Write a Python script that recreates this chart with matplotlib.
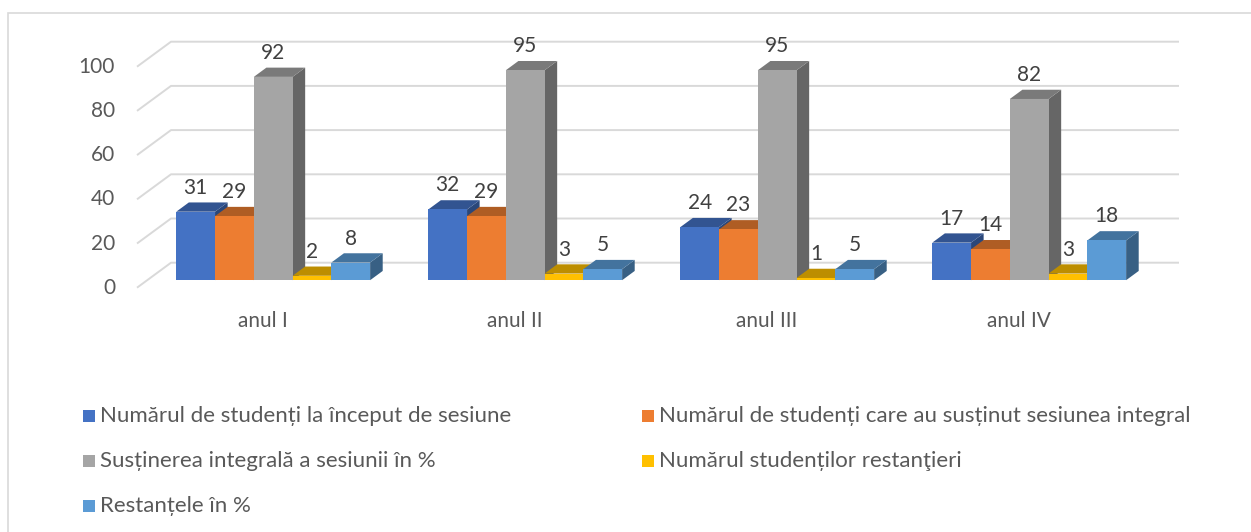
import matplotlib
matplotlib.use("Agg")
import matplotlib.pyplot as plt
from matplotlib.patches import Polygon, Rectangle
from matplotlib.transforms import offset_copy
import matplotlib.colors as mcolors
import numpy as np

# ---- data ----
categories = ["anul I", "anul II", "anul III", "anul IV"]
series_names = [
    "Numărul de studenți la început de sesiune",
    "Numărul de studenți care au susținut sesiunea integral",
    "Susținerea integrală a sesiunii în %",
    "Numărul studenților restanţieri",
    "Restanțele în %",
]
s_inceput = [31, 32, 24, 17]
s_integral = [29, 29, 23, 14]
s_procent = [92, 95, 95, 82]
s_restantieri = [2, 3, 1, 3]
s_restante_pct = [8, 5, 5, 18]
series_values = [s_inceput, s_integral, s_procent, s_restantieri, s_restante_pct]
colors = ["#4472C4", "#ED7D31", "#A5A5A5", "#FFC000", "#5B9BD5"]
yticks = [0, 20, 40, 60, 80, 100]

# ---- layout ----
W, H = 1251, 532
plt.rcParams['font.family'] = ['Lato', 'DejaVu Sans']
fig = plt.figure(figsize=(W / 100, H / 100), dpi=100)
x_left_px, x_right_px = 137, 1145
y0_px, y100_px = 287.7, 66.7
ax = fig.add_axes([x_left_px / W, (H - y0_px) / H,
                   (x_right_px - x_left_px) / W, (y0_px - y100_px) / H])
ax.set_xlim(-0.5, len(categories) - 0.5)
ax.set_ylim(0, 100)
ax.axis("off")

px_per_x = (x_right_px - x_left_px) / len(categories)
px_per_y = (y0_px - y100_px) / 100
DX = 34 / px_per_x       # full depth offset in x data units
DY = 25 / px_per_y       # full depth offset in y data units
grid_col = "#D9D9D9"
text_col = "#595959"

# gridlines: left side wall diagonals + back wall horizontals
x0 = -0.5
x1 = len(categories) - 0.5
for v in yticks:
    ax.plot([x0, x0 + DX, x1 + DX], [v, v + DY, v + DY], color=grid_col,
            lw=1.4, clip_on=False, zorder=1, solid_capstyle="butt")
    t = offset_copy(ax.transData, fig=fig, x=-22, y=0, units="dots")
    ax.text(x0, v, str(v), transform=t, ha="right", va="center",
            fontsize=15, color=text_col)

# bars
n = len(series_values)
gap = 1.5
bw = 1.0 / (n + gap)
f0 = 0.30      # depth position of bar front face
fd = 0.37      # bar depth fraction


def shade(c, k):
    r, g, b = mcolors.to_rgb(c)
    return (r * k, g * k, b * k)


z = 2
for ci, cat in enumerate(categories):
    start = ci - n * bw / 2
    for si, vals in enumerate(series_values):
        v = vals[ci]
        c = colors[si]
        xa = start + si * bw + f0 * DX
        xb = xa + bw
        yb = f0 * DY
        yt = yb + v
        ddx, ddy = fd * DX, fd * DY
        side = Polygon([(xb, yb), (xb + ddx, yb + ddy), (xb + ddx, yt + ddy), (xb, yt)],
                       closed=True, fc=shade(c, 0.62), ec="none", clip_on=False, zorder=z)
        top = Polygon([(xa, yt), (xb, yt), (xb + ddx, yt + ddy), (xa + ddx, yt + ddy)],
                      closed=True, fc=shade(c, 0.74), ec="none", clip_on=False, zorder=z)
        front = Polygon([(xa, yb), (xb, yb), (xb, yt), (xa, yt)], closed=True,
                        fc=c, ec="none", clip_on=False, zorder=z)
        for p in (side, top, front):
            ax.add_patch(p)
        z += 1
        ax.text((xa + xb) / 2, yt + 24 / px_per_y, str(v), ha="center", va="center",
                fontsize=15, color="#404040", zorder=50, clip_on=False)

# category labels
tcat = offset_copy(ax.transData, fig=fig, x=0, y=-33, units="dots")
for ci, cat in enumerate(categories):
    ax.text(ci, 0, cat, transform=tcat, ha="center", va="center",
            fontsize=15, color=text_col)

# legend (manual, Excel style 2 columns)
rows = [416, 461, 506]
cols = [(83, 100), (642, 659)]
order = [(0, 0, 0), (1, 0, 1), (2, 1, 0), (3, 1, 1), (4, 2, 0)]
for si, r, cidx in order:
    sx, tx = cols[cidx]
    yc = rows[r]
    sq = 12
    fig.add_artist(Rectangle((sx / W, 1 - (yc + sq / 2) / H), sq / W, sq / H,
                             transform=fig.transFigure, fc=colors[si], ec="none"))
    fig.text(tx / W, 1 - yc / H, series_names[si], ha="left", va="center",
             fontsize=16, color=text_col)

# outer border
fig.add_artist(Rectangle((8 / W, -0.1), 1.2, 1 - 13 / H + 0.1,
                         transform=fig.transFigure, fill=False, ec="#D9D9D9", lw=1.2))

fig.savefig("out.png", dpi=100, facecolor="white")
